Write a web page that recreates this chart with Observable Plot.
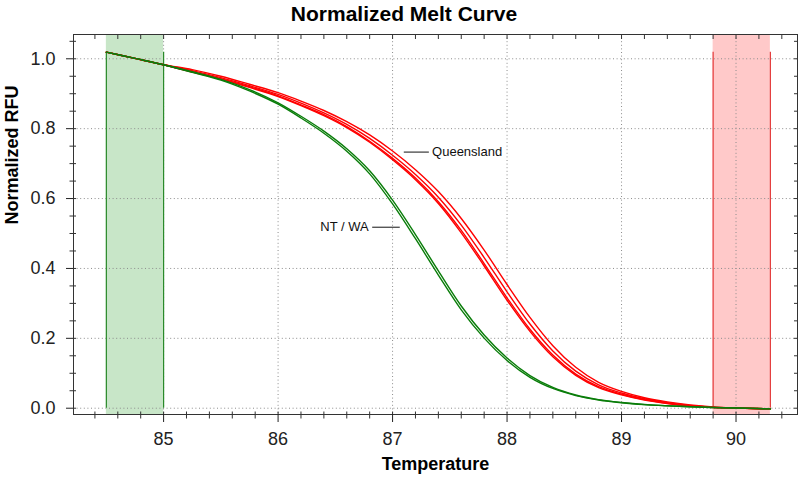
<!DOCTYPE html>
<html><head><meta charset="utf-8">
<script src="https://cdn.jsdelivr.net/npm/d3@7"></script>
<script src="https://cdn.jsdelivr.net/npm/@observablehq/plot@0.6"></script>
<style>
body{margin:0;background:#fff;}
#wrap{position:relative;width:800px;height:479px;}
#title{position:absolute;left:4px;top:2px;width:800px;text-align:center;font:bold 21px "Liberation Sans",Arial,sans-serif;color:#000;}
</style></head><body><div id="wrap"></div>
<script>
// Temperatures (°C) at which the curves were read
const temps = [84.5, 84.75, 85.0, 85.25, 85.5, 85.75, 86.0, 86.2, 86.4, 86.6, 86.8, 87.0, 87.2, 87.4, 87.6, 87.8, 88.0, 88.2, 88.4, 88.6, 88.8, 89.0, 89.2, 89.4, 89.6, 89.8, 90.0, 90.3];

// Queensland replicates (normalized RFU)
const queensland1 = [1.019, 1.001, 0.983, 0.962, 0.942, 0.918, 0.892, 0.866, 0.837, 0.803, 0.761, 0.711, 0.654, 0.586, 0.502, 0.407, 0.309, 0.220, 0.147, 0.094, 0.059, 0.0385, 0.0235, 0.0136, 0.0064, 0.0022, 0.0002, -0.002];
const queensland2 = [1.019, 1.001, 0.983, 0.963, 0.943, 0.920, 0.894, 0.868, 0.840, 0.806, 0.764, 0.715, 0.6585, 0.591, 0.509, 0.414, 0.316, 0.226, 0.152, 0.0975, 0.0615, 0.040, 0.0246, 0.0143, 0.0069, 0.0024, 0.0003, -0.002];
const queensland3 = [1.019, 1.001, 0.983, 0.966, 0.946, 0.923, 0.898, 0.873, 0.845, 0.812, 0.772, 0.724, 0.669, 0.604, 0.524, 0.431, 0.333, 0.241, 0.164, 0.106, 0.067, 0.0435, 0.027, 0.016, 0.008, 0.003, 0.0005, -0.002];
const queensland4 = [1.019, 1.001, 0.983, 0.969, 0.950, 0.927, 0.903, 0.879, 0.852, 0.820, 0.782, 0.736, 0.6825, 0.620, 0.543, 0.4525, 0.354, 0.260, 0.179, 0.117, 0.074, 0.048, 0.030, 0.018, 0.0094, 0.0037, 0.0008, -0.002];

// NT / WA replicates (normalized RFU)
const ntwa1 = [1.019, 1.001, 0.983, 0.961, 0.939, 0.908, 0.870, 0.8305, 0.787, 0.7355, 0.6706, 0.5845, 0.485, 0.381, 0.2815, 0.2006, 0.1365, 0.0885, 0.0565, 0.0362, 0.0235, 0.0156, 0.0103, 0.0068, 0.004, 0.002, 0.0005, -0.002];
const ntwa2 = [1.019, 1.001, 0.983, 0.963, 0.941, 0.912, 0.874, 0.8355, 0.793, 0.7425, 0.6794, 0.5955, 0.497, 0.393, 0.2925, 0.2094, 0.1435, 0.0935, 0.0595, 0.0378, 0.0245, 0.0164, 0.0107, 0.0072, 0.004, 0.002, 0.0005, -0.002];

// Melt region boundaries (°C)
const startRegion = [84.5, 85.0];
const endRegion = [89.8, 90.3];

// Ticks
const xMajorTicks = [85, 86, 87, 88, 89, 90];
const xMinorTicks = [84.4, 84.6, 84.8, 85.2, 85.4, 85.6, 85.8, 86.2, 86.4, 86.6, 86.8, 87.2, 87.4, 87.6, 87.8, 88.2, 88.4, 88.6, 88.8, 89.2, 89.4, 89.6, 89.8, 90.2, 90.4];
const yMajorTicks = [0, 0.2, 0.4, 0.6, 0.8, 1.0];
const yMinorTicks = [0.05, 0.1, 0.15, 0.25, 0.3, 0.35, 0.45, 0.5, 0.55, 0.65, 0.7, 0.75, 0.85, 0.9, 0.95, 1.05];

const seriesNames = ["Queensland", "NT / WA"];

const replicates = [
  {group: seriesNames[0], rep: "Q1", vals: queensland1},
  {group: seriesNames[0], rep: "Q2", vals: queensland2},
  {group: seriesNames[0], rep: "Q3", vals: queensland3},
  {group: seriesNames[0], rep: "Q4", vals: queensland4},
  {group: seriesNames[1], rep: "N1", vals: ntwa1},
  {group: seriesNames[1], rep: "N2", vals: ntwa2}
];
const rows = replicates.flatMap(s => temps.map((t, i) => ({T: t, v: s.vals[i], rep: s.rep, group: s.group})));
const qRows = rows.filter(d => d.group === seriesNames[0]);
const nRows = rows.filter(d => d.group === seriesNames[1]);
const edgeTop = queensland1[0];

const RED = "#ff0000", GREEN = "#0a7d0a";
const FONT = "'Liberation Sans', Arial, sans-serif";
const blank = () => "";

const chart = Plot.plot({
  width: 800, height: 479,
  marginLeft: 73, marginRight: 3, marginTop: 34, marginBottom: 65,
  x: {domain: [84.213, 90.537]},
  y: {domain: [-0.018, 1.0695]},
  style: {fontFamily: FONT, background: "#fff", color: "#222"},
  marks: [
    Plot.rect([startRegion], {x1: d => d[0], x2: d => d[1], fill: "#c8e6c8"}),
    Plot.rect([endRegion], {x1: d => d[0], x2: d => d[1], fill: "#ffc9c9"}),
    Plot.ruleX(xMajorTicks, {stroke: "#8c8c8c", strokeDasharray: "1,2.6"}),
    Plot.ruleY(yMajorTicks, {stroke: "#8c8c8c", strokeDasharray: "1,2.6"}),
    Plot.ruleX(startRegion, {y1: 0, y2: edgeTop, stroke: "#2a8a2a", strokeWidth: 1.2}),
    Plot.ruleX(endRegion, {y1: 0, y2: edgeTop, stroke: "#e43a3a", strokeWidth: 1.2}),
    Plot.line(qRows, {x: "T", y: "v", z: "rep", stroke: RED, strokeWidth: 1.4, curve: "monotone-x"}),
    Plot.line(nRows, {x: "T", y: "v", z: "rep", stroke: GREEN, strokeWidth: 1.4, curve: "monotone-x"}),
    // annotations
    Plot.link([seriesNames[0]], {x1: 87.098, x2: 87.317, y1: 0.733, y2: 0.733, stroke: "#111", strokeWidth: 1}),
    Plot.text([seriesNames[0]], {x: 87.345, y: 0.733, text: d => d, textAnchor: "start", fontSize: 13, fill: "#111"}),
    Plot.link([seriesNames[1]], {x1: 86.822, x2: 87.063, y1: 0.518, y2: 0.518, stroke: "#111", strokeWidth: 1}),
    Plot.text([seriesNames[1]], {x: 86.792, y: 0.518, text: d => d, textAnchor: "end", fontSize: 13, fill: "#111"}),
    Plot.frame({stroke: "#333"}),
    // axes
    Plot.axisX(xMajorTicks, {anchor: "bottom", tickSize: 8, tickPadding: 10, fontSize: 18, tickFormat: d => String(d), label: null, color: "#222"}),
    Plot.axisX(xMinorTicks, {anchor: "bottom", tickSize: 4.5, tickFormat: blank, label: null, color: "#333"}),
    Plot.axisX([...xMajorTicks, ...xMinorTicks], {anchor: "bottom", tickSize: -2.5, tickFormat: blank, label: null, color: "#333"}),
    Plot.axisX([...xMajorTicks, ...xMinorTicks], {anchor: "top", tickSize: -4, tickFormat: blank, label: null, color: "#333"}),
    Plot.axisY(yMajorTicks, {anchor: "left", tickSize: 7, tickPadding: 11, fontSize: 18, tickFormat: d3.format(".1f"), label: null, color: "#222"}),
    Plot.axisY(yMinorTicks, {anchor: "left", tickSize: 3.5, tickFormat: blank, label: null, color: "#333"}),
    Plot.axisY([...yMajorTicks, ...yMinorTicks], {anchor: "left", tickSize: -3, tickFormat: blank, label: null, color: "#333"}),
    Plot.axisY([...yMajorTicks, ...yMinorTicks], {anchor: "right", tickSize: -4, tickFormat: blank, label: null, color: "#333"}),
    // axis titles
    Plot.text(["Temperature"], {frameAnchor: "bottom", dy: 55, text: d => d, fontSize: 18, fontWeight: "bold", fill: "#000"}),
    Plot.text(["Normalized RFU"], {frameAnchor: "left", dx: -61, rotate: -90, text: d => d, fontSize: 18, fontWeight: "bold", fill: "#000"})
  ]
});
const wrap = document.getElementById("wrap");
wrap.appendChild(chart);
const title = document.createElement("div");
title.id = "title";
title.textContent = "Normalized Melt Curve";
wrap.appendChild(title);
</script>
</body></html>
